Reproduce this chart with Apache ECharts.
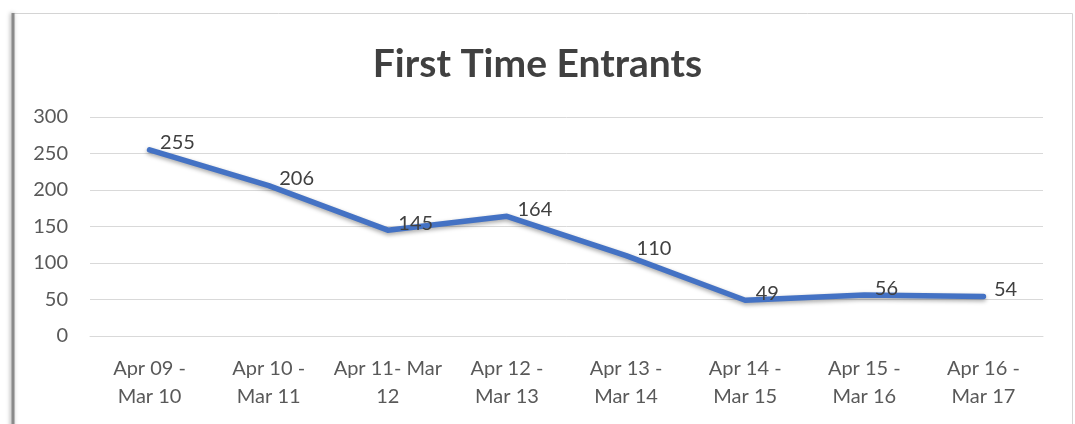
<!DOCTYPE html>
<html>
<head>
<meta charset="utf-8">
<script src="https://cdn.jsdelivr.net/npm/echarts@6/dist/echarts.min.js"></script>
<style>
html,body{margin:0;padding:0;background:#fff;}
#chart{width:1075px;height:424px;}
</style>
</head>
<body>
<div id="chart"></div>
<script>
const chartTitle = 'First Time Entrants';
const categories = ['Apr 09 -\nMar 10','Apr 10 -\nMar 11','Apr 11- Mar\n12','Apr 12 -\nMar 13','Apr 13 -\nMar 14','Apr 14 -\nMar 15','Apr 15 -\nMar 16','Apr 16 -\nMar 17'];
const entrants = [255, 206, 145, 164, 110, 49, 56, 54];
const yTicks = {min: 0, max: 300, interval: 50};

const FONT = 'Lato, "Open Sans", sans-serif';
const chart = echarts.init(document.getElementById('chart'));
chart.setOption({
  backgroundColor: '#ffffff',
  animation: false,
  graphic: [
    {type: 'rect', shape: {x: 13.5, y: 13.5, width: 1059, height: 440}, style: {fill: 'none', stroke: '#d4d4d4', lineWidth: 1}, z: 0},
    {type: 'line', shape: {x1: 13, y1: 13, x2: 13, y2: 430}, style: {stroke: '#8a8a8a', lineWidth: 3, shadowBlur: 4, shadowColor: 'rgba(0,0,0,0.35)', shadowOffsetX: -1}, z: 1}
  ],
  title: {
    text: chartTitle,
    left: 'center',
    top: 40,
    textStyle: {fontFamily: FONT, fontSize: 39, fontWeight: 'bold', color: '#404040'}
  },
  grid: {left: 90, right: 32, top: 117, bottom: 88, containLabel: false},
  xAxis: {
    type: 'category',
    data: categories,
    boundaryGap: true,
    axisLine: {show: true, lineStyle: {color: '#d9d9d9', width: 1}},
    axisTick: {show: false},
    axisLabel: {color: '#595959', fontFamily: FONT, fontSize: 20, lineHeight: 28, margin: 19, interval: 0}
  },
  yAxis: {
    type: 'value',
    min: yTicks.min, max: yTicks.max, interval: yTicks.interval,
    axisLine: {show: false},
    axisTick: {show: false},
    axisLabel: {color: '#595959', fontFamily: FONT, fontSize: 20, margin: 22},
    splitLine: {lineStyle: {color: '#d9d9d9', width: 1}}
  },
  series: [{
    type: 'line',
    data: entrants,
    showSymbol: true,
    symbol: 'circle',
    symbolSize: 1,
    itemStyle: {color: 'rgba(68,114,196,0)', borderWidth: 0},
    lineStyle: {color: '#4472c4', width: 5.5, cap: 'round', join: 'round', shadowBlur: 4, shadowColor: 'rgba(0,0,0,0.35)', shadowOffsetY: 2},
    label: {
      show: true,
      position: 'right',
      distance: 10,
      offset: [0, -7],
      color: '#404040',
      fontFamily: FONT,
      fontSize: 20
    }
  }]
});
</script>
</body>
</html>
